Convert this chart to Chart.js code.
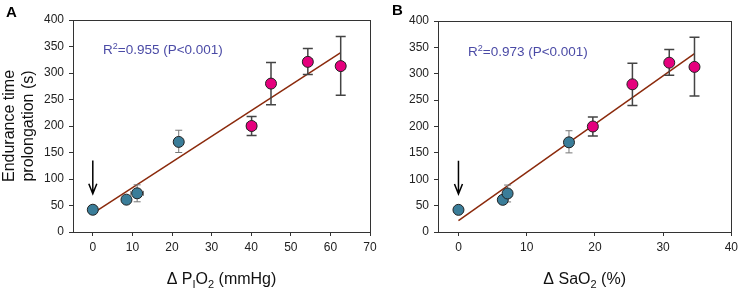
<!DOCTYPE html>
<html>
<head>
<meta charset="utf-8">
<script src="https://cdn.jsdelivr.net/npm/chart.js@4.4.1/dist/chart.umd.min.js"></script>
<style>
  body { margin: 0; background: #fff; }
  #wrap { position: relative; width: 742px; height: 291px; }
  canvas { position: absolute; top: 0; }
</style>
</head>
<body>
<div id="wrap">
  <canvas id="chartA" width="385" height="291" style="left:0;width:385px;height:291px"></canvas>
  <canvas id="chartB" width="371" height="291" style="left:371px;width:371px;height:291px"></canvas>
</div>
<script>
// values
var yTicks = [0, 50, 100, 150, 200, 250, 300, 350, 400];
var xTicksA = [0, 10, 20, 30, 40, 50, 60, 70];
var xTicksB = [0, 10, 20, 30, 40];

var prolongation = [42, 61, 73, 170, 200, 280, 321, 313];
var prolongErrLow = [0, 3, 16, 20, 18, 40, 24, 55];
var prolongErrHigh = [0, 3, 16, 22, 18, 40, 25, 56];

var deltaPIO2 = [0, 8.5, 11.2, 21.7, 40.1, 45, 54.3, 62.6];
var deltaPIO2Err = [0, 0.6, 1.6, 0.3, 1.1, 0.6, 1.0, 1.0];
var deltaSaO2 = [0, 6.5, 7.2, 16.2, 19.7, 25.5, 30.9, 34.6];
var deltaSaO2Err = [0, 0.3, 0.4, 0.3, 0.4, 0.4, 0.4, 0.4];

var arrowY = [135, 72]; // arrow over the x=0 point, from / to
var r2Text = ['0.955', '0.973'];

var BLUE = '#3a7d99', PINK = '#e5007d', LINE = '#8b2a0c';
var FONT = 'Arial, "Liberation Sans", sans-serif';

function pts(xs, ys, a, b) {
  return xs.slice(a, b).map(function (x, i) { return {x: x, y: ys[a + i]}; });
}

function fitLine(xs, ys) {
  var n = xs.length, mx = 0, my = 0, sxy = 0, sxx = 0;
  xs.forEach(function (x, i) { mx += x / n; my += ys[i] / n; });
  xs.forEach(function (x, i) { sxy += (x - mx) * (ys[i] - my); sxx += (x - mx) * (x - mx); });
  var b = sxy / sxx, a = my - b * mx;
  var lo = Math.min.apply(null, xs), hi = Math.max.apply(null, xs);
  return [{x: lo, y: a + b * lo}, {x: hi, y: a + b * hi}];
}

function drawRich(ctx, parts, cx, y) {
  var w = 0;
  parts.forEach(function (p) { ctx.font = p.size + 'px ' + FONT; p.w = ctx.measureText(p.t).width; w += p.w; });
  var x = cx - w / 2;
  parts.forEach(function (p) {
    ctx.font = p.size + 'px ' + FONT;
    ctx.fillText(p.t, x, y + (p.dy || 0));
    x += p.w;
  });
}

var extras = {
  id: 'extras',
  beforeDatasetsDraw: function (chart) {
    var a = chart.chartArea, ctx = chart.ctx;
    ctx.save();
    ctx.strokeStyle = '#333';
    ctx.lineWidth = 1;
    ctx.strokeRect(Math.round(a.left) + 0.5, Math.round(a.top) + 0.5, Math.round(a.right - a.left), Math.round(a.bottom - a.top));
    ctx.restore();
  },
  beforeDatasetDraw: function (chart, args) {
    var ds = chart.data.datasets[args.index];
    if (!ds.err) return;
    var xs = chart.scales.x, ys = chart.scales.y, ctx = chart.ctx, e = ds.err;
    ctx.save();
    ctx.strokeStyle = e.color;
    ctx.lineWidth = e.width;
    ds.data.forEach(function (p, i) {
      var px = xs.getPixelForValue(p.x), py = ys.getPixelForValue(p.y), c = e.cap;
      ctx.beginPath();
      if (e.low[i] || e.high[i]) {
        var y1 = ys.getPixelForValue(p.y - e.low[i]), y2 = ys.getPixelForValue(p.y + e.high[i]);
        ctx.moveTo(px, y1); ctx.lineTo(px, y2);
        ctx.moveTo(px - c, y1); ctx.lineTo(px + c, y1);
        ctx.moveTo(px - c, y2); ctx.lineTo(px + c, y2);
      }
      if (e.x[i]) {
        var x1 = xs.getPixelForValue(p.x - e.x[i]), x2 = xs.getPixelForValue(p.x + e.x[i]);
        ctx.moveTo(x1, py); ctx.lineTo(x2, py);
        ctx.moveTo(x1, py - c * 0.7); ctx.lineTo(x1, py + c * 0.7);
        ctx.moveTo(x2, py - c * 0.7); ctx.lineTo(x2, py + c * 0.7);
      }
      ctx.stroke();
    });
    ctx.restore();
  },
  afterDraw: function (chart, args, o) {
    var ctx = chart.ctx, a = chart.chartArea, xs = chart.scales.x, ys = chart.scales.y;
    ctx.save();
    // arrow
    var ax = xs.getPixelForValue(0), ay1 = ys.getPixelForValue(arrowY[0]), ay2 = ys.getPixelForValue(arrowY[1]);
    ctx.strokeStyle = '#000';
    ctx.lineWidth = 1.5;
    ctx.beginPath();
    ctx.moveTo(ax, ay1); ctx.lineTo(ax, ay2);
    ctx.moveTo(ax - 4, ay2 - 10); ctx.lineTo(ax, ay2); ctx.lineTo(ax + 4, ay2 - 10);
    ctx.stroke();
    // panel letter
    ctx.fillStyle = '#000';
    ctx.font = 'bold 15px ' + FONT;
    ctx.textBaseline = 'alphabetic';
    ctx.fillText(o.letter, o.letterX, o.letterY);
    // R^2 text
    ctx.fillStyle = '#4b4ba6';
    var rx = a.left + 30, ry = o.r2Y;
    ctx.font = '13.5px ' + FONT;
    ctx.fillText('R', rx, ry);
    rx += ctx.measureText('R').width;
    ctx.font = '9px ' + FONT;
    ctx.fillText('2', rx, ry - 5);
    rx += ctx.measureText('2').width;
    ctx.font = '13.5px ' + FONT;
    ctx.fillText('=' + o.r2 + ' (P<0.001)', rx, ry);
    // x axis title with subscripts
    ctx.fillStyle = '#111';
    drawRich(ctx, o.xTitle, (a.left + a.right) / 2, 284);
    ctx.restore();
  }
};

function makeChart(id, xs, xErr, xMin, xMax, xTicks, opt) {
  var blueErr = {low: prolongErrLow.slice(0, 4), high: prolongErrHigh.slice(0, 4), x: xErr.slice(0, 4), color: '#777', width: 1, cap: 3.5};
  var pinkErr = {low: prolongErrLow.slice(4), high: prolongErrHigh.slice(4), x: xErr.slice(4), color: '#444', width: 1.5, cap: 5};
  return new Chart(document.getElementById(id), {
    type: 'scatter',
    data: {
      datasets: [
        {data: pts(xs, prolongation, 0, 4), err: blueErr, backgroundColor: BLUE, borderColor: '#222', borderWidth: 1, pointRadius: 5.5, order: 1},
        {data: pts(xs, prolongation, 4, 8), err: pinkErr, backgroundColor: PINK, borderColor: '#222', borderWidth: 1, pointRadius: 5.5, order: 0},
        {data: fitLine(xs, prolongation), showLine: true, borderColor: LINE, borderWidth: 1.5, pointRadius: 0, order: 5}
      ]
    },
    options: {
      responsive: false,
      animation: false,
      devicePixelRatio: 1,
      clip: false,
      layout: {padding: opt.padding},
      plugins: {
        legend: {display: false},
        tooltip: {enabled: false},
        extras: opt.extras
      },
      scales: {
        x: {
          type: 'linear', min: xMin, max: xMax,
          afterBuildTicks: function (s) { s.ticks = xTicks.map(function (v) { return {value: v}; }); },
          afterFit: function (s) { s.height = 59; },
          border: {display: false},
          grid: {drawOnChartArea: false, drawTicks: true, tickLength: 4, color: '#333'},
          ticks: {font: {size: 12, family: FONT}, color: '#222', padding: 4, maxRotation: 0}
        },
        y: {
          type: 'linear', min: 0, max: 400,
          afterBuildTicks: function (s) { s.ticks = yTicks.map(function (v) { return {value: v}; }); },
          afterFit: function (s) { s.width = opt.yWidth; },
          border: {display: false},
          grid: {drawOnChartArea: false, drawTicks: true, tickLength: 4, color: '#333'},
          ticks: {font: {size: 12, family: FONT}, color: '#222', padding: 5},
          title: opt.yTitle
        }
      }
    },
    plugins: [extras]
  });
}

makeChart('chartA', deltaPIO2, deltaPIO2Err, -5, 70, xTicksA, {
  padding: {left: 0, top: 20, right: 15, bottom: 0},
  yWidth: 73,
  yTitle: {display: true, text: ['Endurance time', 'prolongation (s)'], font: {size: 16, family: FONT}, color: '#111', padding: {top: 0, bottom: 0}},
  extras: {
    letter: 'A', letterX: 6, letterY: 17, r2: r2Text[0], r2Y: 54,
    xTitle: [{t: '\u0394 P', size: 16}, {t: 'I', size: 11, dy: 4}, {t: 'O', size: 16}, {t: '2', size: 11, dy: 4}, {t: ' (mmHg)', size: 16}]
  }
});

makeChart('chartB', deltaSaO2, deltaSaO2Err, -3, 40, xTicksB, {
  padding: {left: 0, top: 21, right: 9, bottom: 0},
  yWidth: 67,
  yTitle: {display: false},
  extras: {
    letter: 'B', letterX: 21, letterY: 15, r2: r2Text[1], r2Y: 56,
    xTitle: [{t: '\u0394 SaO', size: 16}, {t: '2', size: 11, dy: 4}, {t: ' (%)', size: 16}]
  }
});
</script>
</body>
</html>
